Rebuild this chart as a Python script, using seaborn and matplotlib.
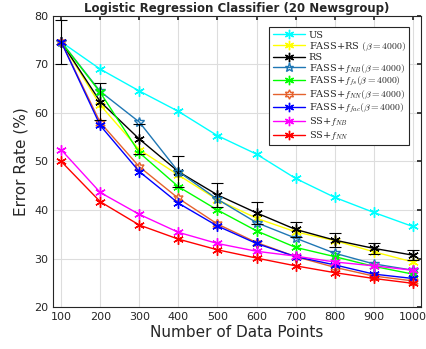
import matplotlib
matplotlib.use("Agg")
import matplotlib.pyplot as plt
import seaborn as sns
import pandas as pd
import numpy as np

sns.set_theme(style="whitegrid")
plt.rcParams['font.family'] = ['DejaVu Sans']
plt.rcParams['mathtext.fontset'] = 'cm'

x = [100, 200, 300, 400, 500, 600, 700, 800, 900, 1000]
us = [74.6, 69.0, 64.5, 60.3, 55.3, 51.5, 46.5, 42.6, 39.5, 36.6]
fass_rs = [74.6, 61.6, 52.4, 47.2, 42.1, 38.3, 35.5, 33.7, 31.4, 29.3]
rs = [74.6, 62.3, 54.6, 47.9, 43.1, 39.4, 36.0, 33.8, 32.1, 30.7]
rs_err = [4.6, 3.8, 3.0, 3.2, 2.5, 2.2, 1.6, 1.4, 1.1, 1.0]
fass_nb = [74.6, 64.4, 58.1, 47.9, 42.2, 37.4, 34.2, 31.1, 28.9, 27.6]
fass_fs = [74.6, 64.2, 51.8, 44.8, 40.0, 35.7, 32.3, 30.4, 28.4, 26.8]
fass_nn = [74.6, 58.0, 48.9, 42.4, 37.1, 33.3, 30.4, 28.2, 26.4, 25.4]
fass_fac = [74.6, 57.4, 47.9, 41.4, 36.7, 33.1, 30.4, 28.7, 26.8, 25.9]
ss_nb = [52.4, 43.6, 39.1, 35.4, 33.1, 31.5, 30.5, 29.3, 28.5, 27.6]
ss_nn = [50.0, 41.7, 36.9, 34.0, 31.8, 30.1, 28.5, 27.1, 25.9, 24.9]

labels = ["US", r"FASS+RS $(\beta=4000)$", "RS",
          r"FASS+$f_{NB}(\beta=4000)$", r"FASS+$f_{fs}(\beta=4000)$",
          r"FASS+$f_{NN}(\beta=4000)$", r"FASS+$f_{fac}(\beta=4000)$",
          r"SS+$f_{NB}$", r"SS+$f_{NN}$"]
series = [us, fass_rs, rs, fass_nb, fass_fs, fass_nn, fass_fac, ss_nb, ss_nn]
colors = ["#00ffff", "#ffff00", "#000000", "#1f77b4", "#00ff00", "#e5622e",
          "#0000ff", "#ff00ff", "#ff0000"]
ast = (6, 2, 0)
markers = [ast, ast, ast, "*", ast, (6, 1, 0), ast, ast, ast]
mfc = [None, None, None, "none", None, "none", None, None, None]

rows = []
for lab, vals in zip(labels, series):
    for xi, v in zip(x, vals):
        rows.append({"n": xi, "err": v, "method": lab})
df = pd.DataFrame(rows)

fig, ax = plt.subplots(figsize=(4.27, 3.49), dpi=100)
for lab, col, mk, fc in zip(labels, colors, markers, mfc):
    sub = df[df["method"] == lab]
    kw = dict(markersize=7.5, markeredgewidth=1.0)
    if fc is not None:
        kw["markerfacecolor"] = "none"
    sns.lineplot(data=sub, x="n", y="err", ax=ax, color=col, marker=mk,
                 markeredgecolor=col, linewidth=1.0, label=lab, **kw)
ax.errorbar(x, rs, yerr=rs_err, fmt="none", ecolor="black", elinewidth=0.8,
            capsize=4, capthick=0.8)

ax.set_xlim(80, 1020)
ax.set_ylim(20, 80)
ax.set_xticks(x)
ax.set_yticks([20, 30, 40, 50, 60, 70, 80])
ax.tick_params(labelsize=8, direction="in", length=3, top=True, right=True,
               colors="#262626")
ax.set_xlabel("Number of Data Points", fontsize=11, labelpad=2)
ax.set_ylabel("Error Rate (%)", fontsize=11)
ax.set_title("Logistic Regression Classifier (20 Newsgroup)", fontsize=8.5,
             fontweight="bold", pad=3)
ax.grid(True, color="#dddddd", linewidth=0.8)
ax.set_facecolor("white")
for s in ax.spines.values():
    s.set_color("#262626")
    s.set_linewidth(0.8)

leg = ax.legend(loc="upper right", frameon=True, fancybox=False,
                edgecolor="#262626", framealpha=1, borderpad=0.35,
                labelspacing=0.05, handlelength=3.3, handletextpad=0.4,
                borderaxespad=1.2, markerscale=0.9,
                prop={"family": "serif", "size": 7})
leg.get_frame().set_linewidth(0.8)

fig.subplots_adjust(left=0.125, right=0.985, bottom=0.12, top=0.955)
fig.savefig("out.png", dpi=100)
